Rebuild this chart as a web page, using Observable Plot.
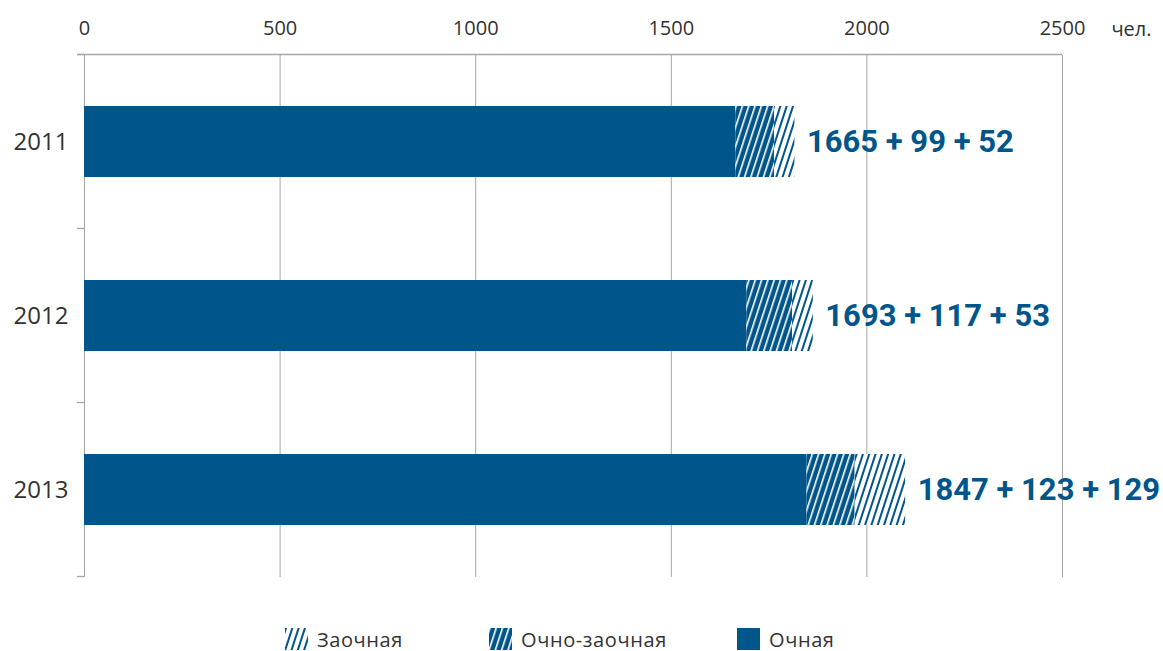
<!DOCTYPE html>
<html><head><meta charset="utf-8">
<script src="https://cdn.jsdelivr.net/npm/d3@7"></script>
<script src="https://cdn.jsdelivr.net/npm/@observablehq/plot@0.6"></script>
<style>
body{margin:0;background:#fff;width:1163px;height:651px;overflow:hidden;position:relative;font-family:"Open Sans",sans-serif;}
#legend{position:absolute;left:0;top:628px;width:1163px;height:23px;}
.item{position:absolute;top:0;display:flex;align-items:center;height:22px;font-size:20px;letter-spacing:0.6px;color:#333;white-space:nowrap;}
.item svg{margin-right:9px;flex:none;}
</style></head><body>
<svg width="0" height="0" style="position:absolute"><defs>
<pattern id="pOZ" patternUnits="userSpaceOnUse" width="6" height="6" patternTransform="rotate(18)">
<rect width="6" height="6" fill="#00558a"/><rect x="0" y="0" width="1.6" height="6" fill="#fff"/>
</pattern>
<pattern id="pZ" patternUnits="userSpaceOnUse" width="6" height="6" patternTransform="rotate(18)">
<rect width="6" height="6" fill="#fff"/><rect x="0" y="0" width="2" height="6" fill="#00558a"/>
</pattern>
</defs></svg>
<div id="chart"></div>
<div id="legend"></div>
<script>
const years = ["2011", "2012", "2013"];
const fullTime = [1665, 1693, 1847];
const partTime = [99, 117, 123];
const extramural = [52, 53, 129];
const seriesNames = ["Очная", "Очно-заочная", "Заочная"];
const xTicks = [0, 500, 1000, 1500, 2000, 2500];
const unitLabel = "чел.";

const blue = "#00558a";
const fills = [blue, "url(#pOZ)", "url(#pZ)"];
const seriesValues = [fullTime, partTime, extramural];

const rows = [];
years.forEach((y, i) => seriesNames.forEach((s, j) => rows.push({year: y, series: s, value: seriesValues[j][i]})));
const totals = years.map((y, i) => ({
  year: y,
  total: fullTime[i] + partTime[i] + extramural[i],
  label: `${fullTime[i]} + ${partTime[i]} + ${extramural[i]}`
}));

const chart = Plot.plot({
  width: 1163, height: 610,
  marginLeft: 84, marginRight: 101, marginTop: 55, marginBottom: 33,
  style: {fontFamily: "'Open Sans', sans-serif", background: "white", overflow: "visible"},
  x: {domain: [0, 2500], label: null},
  y: {domain: years, paddingInner: 0.59, paddingOuter: 0.295, label: null},
  color: {domain: seriesNames, range: fills},
  marks: [
    Plot.gridX(xTicks, {stroke: "#a6a6a6", strokeOpacity: 1}),
    Plot.axisX(xTicks, {anchor: "top", tickSize: 0, tickPadding: 21, fontSize: 20, fill: "#333",
      tickFormat: d => String(d), label: null, style: {letterSpacing: "0.8px"}}),
    Plot.axisY({tickSize: 0, tickPadding: 16, fontSize: 24, fill: "#333", label: null}),
    Plot.barX(rows, {x: "value", y: "year", fill: "series", order: seriesNames}),
    Plot.text(totals, {x: "total", y: "year", text: "label", dx: 12, textAnchor: "start",
      fontSize: 31, fontWeight: "bold", fill: blue, fontFamily: "Roboto"}),
    Plot.text([unitLabel], {text: d => d, frameAnchor: "top-right", dx: 89, dy: -34, fontSize: 20, fill: "#333"})
  ]
});
document.getElementById("chart").appendChild(chart);

// category boundary ticks and top line (Excel-style axis)
const xs = chart.scale("x"), ys = chart.scale("y");
const x0 = xs.apply(0), xEnd = xs.apply(xTicks[xTicks.length - 1]);
const step = ys.step ?? (ys.apply(years[1]) - ys.apply(years[0]));
const bw = ys.bandwidth ?? step * 0.41;
const centers = years.map(y => ys.apply(y) + bw / 2);
const bounds = [centers[0] - step / 2, ...centers.map(c => c + step / 2)];
const g = d3.select(chart).append("g").attr("stroke", "#a6a6a6").attr("stroke-width", 1.3);
bounds.forEach(b => g.append("line").attr("x1", x0 - 7).attr("x2", x0).attr("y1", b).attr("y2", b));
g.append("line").attr("x1", x0 - 7).attr("x2", xEnd).attr("y1", bounds[0]).attr("y2", bounds[0]);

// legend
const legendItems = [
  {name: seriesNames[2], fill: fills[2], left: 285},
  {name: seriesNames[1], fill: fills[1], left: 489},
  {name: seriesNames[0], fill: fills[0], left: 737}
];
const legend = document.getElementById("legend");
legendItems.forEach(it => {
  const d = document.createElement("div");
  d.className = "item";
  d.style.left = it.left + "px";
  d.innerHTML = `<svg width="23" height="22"><rect width="23" height="22" fill="${it.fill}"/></svg><span>${it.name}</span>`;
  legend.appendChild(d);
});
</script>
</body></html>
